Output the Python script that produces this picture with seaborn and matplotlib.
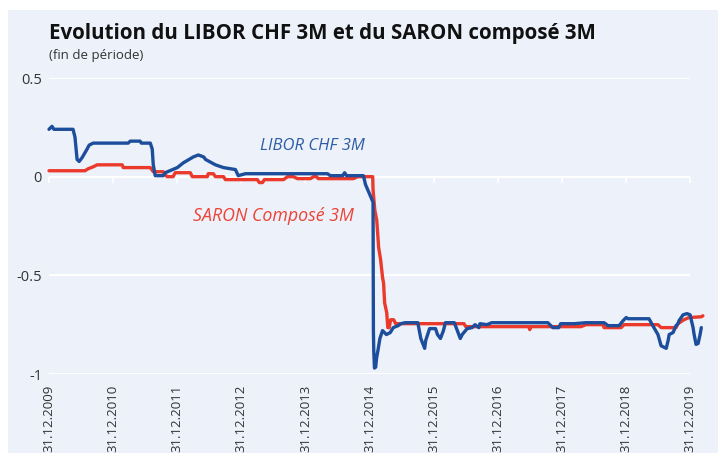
import matplotlib
matplotlib.use("Agg")

import matplotlib.dates as mdates
import matplotlib.pyplot as plt
import pandas as pd
import seaborn as sns
from matplotlib.patches import Rectangle

# --- data (end-of-period values, %) ---
libor_dates = [
    "2009-12-31", "2010-01-17", "2010-01-28", "2010-05-17", "2010-05-28", "2010-06-09",
    "2010-06-21", "2010-07-08", "2010-08-05", "2010-08-17", "2010-09-09",
    "2011-03-27", "2011-04-08", "2011-06-03", "2011-06-10", "2011-07-31", "2011-08-11",
    "2011-08-17", "2011-08-28", "2011-10-13", "2011-10-24",
    "2012-01-01", "2012-02-04", "2012-04-01", "2012-04-30", "2012-05-30", "2012-06-10",
    "2012-08-05", "2012-09-20", "2012-11-27", "2012-12-13",
    "2013-01-23", "2014-05-05", "2014-05-22", "2014-07-31", "2014-08-11", "2014-08-22",
    "2014-11-26", "2014-12-08",
    "2015-01-06", "2015-01-20", "2015-01-22", "2015-01-24", "2015-01-28", "2015-02-04",
    "2015-02-09", "2015-02-17", "2015-02-28", "2015-03-15", "2015-04-06", "2015-04-28",
    "2015-05-15", "2015-06-12", "2015-06-28", "2015-07-21", "2015-10-02", "2015-10-19",
    "2015-11-10", "2015-11-16", "2015-12-08",
    "2016-01-11", "2016-01-22", "2016-02-08", "2016-02-25", "2016-03-07", "2016-04-27",
    "2016-05-14", "2016-05-31", "2016-06-11", "2016-07-09", "2016-08-06", "2016-08-23",
    "2016-09-14", "2016-09-20", "2016-10-29", "2016-11-26",
    "2017-10-12", "2017-11-09", "2017-12-13", "2017-12-24",
    "2018-03-11", "2018-05-17", "2018-08-28", "2018-09-20", "2018-11-22", "2018-12-14",
    "2019-01-01", "2019-01-12", "2019-05-11", "2019-06-08", "2019-07-01", "2019-07-19",
    "2019-08-17", "2019-08-28", "2019-09-03", "2019-09-25", "2019-10-12", "2019-10-23",
    "2019-10-29", "2019-11-21", "2019-12-13", "2019-12-31",
    "2020-01-17", "2020-01-23", "2020-02-03", "2020-02-15", "2020-02-26", "2020-03-04",
]
libor_values = [
    0.24, 0.255, 0.24, 0.24, 0.20, 0.087, 0.077, 0.097, 0.14, 0.16, 0.17,
    0.17, 0.18, 0.18, 0.17, 0.17, 0.14, 0.06, 0.005, 0.005, 0.02,
    0.046, 0.07, 0.10, 0.11, 0.10, 0.087, 0.06, 0.046, 0.036, 0.005,
    0.015, 0.015, 0.005, 0.005, 0.02, 0.005, 0.005, -0.04,
    -0.10, -0.13, -0.78, -0.88, -0.97, -0.965, -0.92, -0.88, -0.82, -0.78, -0.80,
    -0.79, -0.765, -0.755, -0.745, -0.74, -0.74, -0.82, -0.87, -0.83, -0.77,
    -0.77, -0.80, -0.82, -0.78, -0.74, -0.74, -0.78, -0.82, -0.80, -0.77, -0.765,
    -0.75, -0.765, -0.745, -0.75, -0.74,
    -0.74, -0.765, -0.765, -0.745,
    -0.745, -0.74, -0.74, -0.755, -0.755, -0.73,
    -0.714, -0.72, -0.72, -0.765, -0.80, -0.857, -0.87, -0.83, -0.80, -0.79, -0.755,
    -0.745, -0.73, -0.70, -0.694, -0.70,
    -0.765, -0.80, -0.85, -0.845, -0.80, -0.765,
]

saron_dates = [
    "2009-12-31", "2010-07-24", "2010-08-11", "2010-09-09", "2010-10-01",
    "2011-02-21", "2011-02-27", "2011-07-31", "2011-08-17", "2011-10-13", "2011-10-24",
    "2011-11-04", "2011-12-08", "2011-12-20",
    "2012-03-15", "2012-03-26", "2012-06-20", "2012-06-25", "2012-07-24", "2012-08-05",
    "2012-09-20", "2012-10-01",
    "2013-04-01", "2013-04-12", "2013-04-30", "2013-05-11", "2013-08-28", "2013-09-20",
    "2013-10-23", "2013-11-15",
    "2014-01-29", "2014-02-15", "2014-03-03", "2014-03-14", "2014-10-01", "2014-10-24",
    "2015-01-18", "2015-01-20", "2015-01-30", "2015-02-10", "2015-02-21", "2015-03-04",
    "2015-03-15", "2015-03-21", "2015-03-27", "2015-04-08", "2015-04-14", "2015-04-22",
    "2015-04-30", "2015-05-17", "2015-05-29",
    "2016-06-21", "2016-07-01", "2017-06-25", "2017-07-01", "2017-07-07",
    "2018-04-19", "2018-05-17", "2018-08-22", "2018-08-28", "2018-12-03", "2018-12-20",
    "2019-07-01", "2019-07-19", "2019-10-12", "2019-10-23", "2019-11-26", "2019-12-25",
    "2020-03-04", "2020-03-13",
]
saron_values = [
    0.03, 0.03, 0.04, 0.05, 0.06,
    0.06, 0.046, 0.046, 0.025, 0.025, 0.01, 0.0, 0.0, 0.02,
    0.02, 0.0, 0.0, 0.015, 0.015, 0.0, 0.0, -0.015,
    -0.015, -0.03, -0.03, -0.015, -0.015, 0.0, 0.0, -0.01,
    -0.01, 0.0, 0.0, -0.01, -0.01, 0.0,
    0.0, -0.066, -0.17, -0.22, -0.36, -0.42, -0.51, -0.54, -0.64, -0.69, -0.765,
    -0.765, -0.725, -0.725, -0.745,
    -0.745, -0.76, -0.76, -0.775, -0.76,
    -0.76, -0.75, -0.75, -0.765, -0.765, -0.75,
    -0.75, -0.765, -0.765, -0.745, -0.725, -0.714,
    -0.71, -0.705,
]

tick_dates = [f"{y}-12-31" for y in range(2009, 2020)]
y_ticks = [0.5, 0, -0.5, -1]
y_labels = ["0.5", "0", "-0.5", "-1"]

BG = "#ECF1FA"
BLUE = "#1D4E9B"
RED = "#EB3A2B"

sns.set_theme(style="white")
plt.rcParams["font.family"] = ["Open Sans", "DejaVu Sans"]

df = pd.concat([
    pd.DataFrame({"date": pd.to_datetime(saron_dates), "value": saron_values,
                  "series": "SARON"}),
    pd.DataFrame({"date": pd.to_datetime(libor_dates), "value": libor_values,
                  "series": "LIBOR"}),
], ignore_index=True)

fig = plt.figure(figsize=(7.18, 4.53), dpi=100)
fig.patch.set_facecolor("white")
fig.add_artist(Rectangle((8 / 718, 0), 1, 1 - 10 / 453, transform=fig.transFigure,
                         facecolor=BG, edgecolor="none", zorder=0))

ax = fig.add_axes([49 / 718, 1 - 374 / 453, 656 / 718, 296 / 453])
ax.set_facecolor("none")

ticks = pd.to_datetime(tick_dates)
ax.hlines(y_ticks, ticks[0], ticks[-1], color="white", lw=1.4, zorder=1)

sns.lineplot(data=df, x="date", y="value", hue="series", hue_order=["SARON", "LIBOR"],
             palette={"SARON": RED, "LIBOR": BLUE}, estimator=None, legend=False,
             linewidth=2.4, ax=ax, zorder=3)
for ln in ax.get_lines():
    ln.set_clip_on(False)

ax.set_xlim(ticks[0], pd.Timestamp("2020-03-25"))
ax.set_ylim(-1.0, 0.5)
for s in ax.spines.values():
    s.set_visible(False)

ax.set_xticks(ticks)
ax.xaxis.set_major_formatter(mdates.DateFormatter("%d.%m.%Y"))
ax.tick_params(axis="x", colors="white", length=4, width=1.2, pad=4,
               labelcolor="#333333", labelsize=9.5, labelrotation=90)
for lab in ax.get_xticklabels():
    lab.set_va("top")
    lab.set_ha("center")

ax.set_yticks(y_ticks, y_labels)
ax.tick_params(axis="y", length=0, pad=5, labelcolor="#333333", labelsize=10.5)
ax.set_xlabel("")
ax.set_ylabel("")

# tick marks along the zero line
sec = ax.secondary_xaxis(2 / 3)
sec.set_xticks(ticks)
sec.tick_params(axis="x", direction="out", colors="white", length=4, width=1.2,
                labelbottom=False, labeltop=False, top=False, bottom=True)
sec.spines["top"].set_visible(False)
sec.spines["bottom"].set_visible(False)
sec.set_xticklabels([])

ax.text(pd.Timestamp("2014-02-10"), 0.155, "LIBOR CHF 3M", color="#2D5CA6",
        style="italic", fontsize=12, ha="center", va="center")
ax.text(pd.Timestamp("2013-07-01"), -0.2, "SARON Composé 3M", color="#EE4336",
        style="italic", fontsize=12.8, ha="center", va="center")

fig.text(49 / 718, 1 - 39 / 453, "Evolution du LIBOR CHF 3M et du SARON composé 3M",
         fontsize=14.8, fontweight="bold", color="#111111", va="baseline")
fig.text(49 / 718, 1 - 59 / 453, "(fin de période)", fontsize=9.5, color="#333333",
         va="baseline")

fig.savefig("out.png", dpi=100)
